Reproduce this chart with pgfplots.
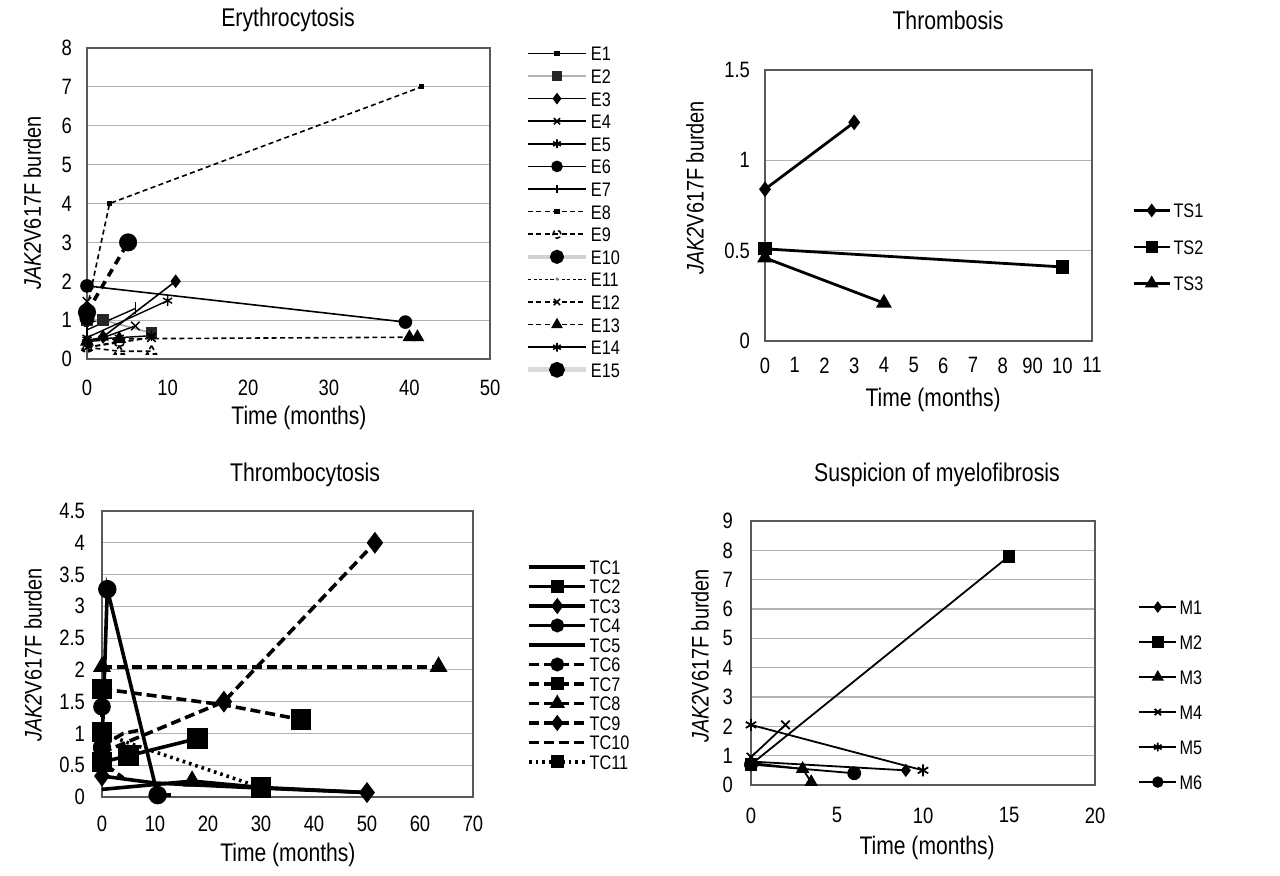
\documentclass[border=0pt]{standalone}
\usepackage{fontspec}
\setmainfont{Liberation Sans}[FakeStretch=0.83]
\usepackage{pgfplots}
\pgfplotsset{compat=1.18}
\pgfplotsset{
  base/.style={
    scale only axis, clip=false, anchor=south west,
    axis line style={draw=gray!70!black, line width=0.6pt},
    major tick length=0pt,
    ymajorgrids, major grid style={gray!60, line width=0.6pt},
    tick label style={font=\fontsize{11.1}{13}\selectfont},
    /pgf/number format/assume math mode=true,
    xlabel style={font=\fontsize{12.7}{15}\selectfont},
    ylabel style={font=\fontsize{12}{14}\selectfont},
    legend cell align=left,
    legend style={draw=none, fill=none, inner sep=0pt, anchor=north west,
      font=\fontsize{9.8}{11}\selectfont,
      nodes={inner sep=0pt, text height=7.5pt, text depth=0pt}},
    every axis plot/.append style={mark options={solid}},
  },
  limg/.style={legend image code/.code={%
    \draw[mark repeat=2,mark phase=2,##1] plot coordinates {(0pt,0pt) (#1/2,0pt) (#1,0pt)};
    \path (#1+1.2pt,0pt);}},
  dsh/.style={dash pattern=on 2.5pt off 1.7pt},
  dshT/.style={dash pattern=on 5pt off 2.5pt},
  dotT/.style={dash pattern=on 1.3pt off 2pt},
}
\begin{document}
\begin{tikzpicture}

% ---------------- Erythrocytosis ----------------
\begin{axis}[base, at={(43.5pt,258pt)}, width=201.5pt, height=155.5pt,
  xmin=0, xmax=50, ymin=0, ymax=8, xtick={0,10,...,50}, ytick={0,1,...,8},
  xticklabel style={yshift=-7pt}, yticklabel style={xshift=-4pt},
  xlabel={Time (months)}, ylabel={\textit{JAK2}V617F burden},
  xlabel style={at={(axis description cs:0.526,-0.19)}, anchor=center},
  ylabel style={at={(axis description cs:-0.136,0.5016)}, anchor=center},
  limg=29pt,
  legend style={at={(axis description cs:1.0868,1.008)}, row sep=3.8pt},
  ]
\addlegendimage{black, line width=0.8pt, mark=square*, mark size=0.9pt}
\addlegendimage{gray!60, line width=1pt, mark=square*, mark size=2pt, mark options={fill=gray!30!black, draw=gray!30!black}}
\addlegendimage{black, line width=0.8pt, mark=diamond*, mark size=2.3pt}
\addlegendimage{black, line width=0.8pt, mark=x, mark size=2.2pt}
\addlegendimage{black, line width=0.8pt, mark=asterisk, mark size=2.2pt}
\addlegendimage{black, line width=0.8pt, mark=*, mark size=2.5pt}
\addlegendimage{black, line width=0.8pt, mark=|, mark size=2pt}
\addlegendimage{black, line width=0.8pt, dsh, mark=square*, mark size=1pt}
\addlegendimage{black, line width=0.8pt, dsh, mark=o, mark size=2pt, mark options={fill=white}}
\addlegendimage{gray!35, line width=2pt, mark=*, mark size=2.5pt, mark options={fill=black, draw=black}}
\addlegendimage{black, line width=0.7pt, dash pattern=on 1.6pt off 1.2pt, mark=*, mark size=0.6pt, mark options={fill=gray, draw=gray}}
\addlegendimage{black, line width=0.8pt, dsh, mark=x, mark size=2.2pt}
\addlegendimage{black, line width=0.8pt, dsh, mark=triangle*, mark size=2.6pt}
\addlegendimage{black, line width=0.8pt, mark=asterisk, mark size=2.2pt}
\addlegendimage{gray!30, line width=2.6pt, mark=*, mark size=2.6pt, mark options={fill=black, draw=black}}
\legend{E1,E2,E3,E4,E5,E6,E7,E8,E9,E10,E11,E12,E13,E14,E15}
\addplot[forget plot, black, line width=0.7pt, mark=square*, mark size=0.9pt] coordinates {(0,0.9) (2,1.05)};
\addplot[forget plot, gray!70, line width=0.8pt, mark=square*, mark size=2.5pt, mark options={fill=gray!30!black, draw=gray!30!black}] coordinates {(0,1.0) (2,1.0) (8,0.67)};
\addplot[forget plot, black, line width=0.8pt, mark=diamond*, mark size=2.8pt] coordinates {(0,0.45) (2,0.57) (11,2.0)};
\addplot[forget plot, black, line width=0.7pt, mark=x, mark size=3pt] coordinates {(0,1.48) (0,0.4) (6,0.85)};
\addplot[forget plot, black, line width=0.7pt, mark=asterisk, mark size=2.6pt] coordinates {(0,0.5) (4,0.55) (8,0.6)};
\addplot[forget plot, black, line width=0.8pt, mark=*, mark size=3pt] coordinates {(0,1.88) (39.5,0.95)};
\addplot[forget plot, black, line width=0.7pt, mark=|, mark size=3pt] coordinates {(0,0.75) (6,1.3)};
\addplot[forget plot, black, line width=0.8pt, dsh, mark=square*, mark size=0.9pt] coordinates {(0,1.3) (2.8,4.0) (41.5,7.0)};
\addplot[forget plot, black, line width=0.8pt, dsh, mark=o, mark size=2.6pt, mark options={fill=white}] coordinates {(0,0.3) (4,0.45)};
\addplot[forget plot, gray!50, line width=1.5pt, mark=*, mark size=3pt, mark options={fill=black, draw=black}] coordinates {(0,1.05)};
\addplot[forget plot, black, line width=0.8pt, dsh, mark=triangle, mark size=2.8pt, mark options={fill=white}] coordinates {(0,0.3) (4,0.2) (8,0.2)};
\addplot[forget plot, black, line width=0.8pt, dsh, mark=x, mark size=3pt] coordinates {(0,0.3) (8,0.55)};
\addplot[forget plot, black, line width=0.8pt, dsh, mark=triangle*, mark size=3.2pt] coordinates {(0,0.45) (4,0.52) (40,0.56) (41,0.56)};
\addplot[forget plot, black, line width=0.7pt, mark=asterisk, mark size=2.6pt] coordinates {(0,0.55) (10,1.5)};
\addplot[forget plot, black, line width=1.8pt, dash pattern=on 4pt off 3pt, mark=*, mark size=3.6pt] coordinates {(0,1.2) (5.1,3.0)};
\end{axis}

% ---------------- Thrombosis ----------------
\begin{axis}[base, at={(382.5pt,267pt)}, width=163.5pt, height=135.5pt,
  xmin=0, xmax=11, ymin=0, ymax=1.5, xtick={0,1,...,11},
  xticklabels={0,1,2,3,4,5,6,7,8,90,10,11}, ytick={0,0.5,1,1.5},
  xticklabel style={yshift=-4.75pt}, yticklabel style={xshift=-4pt},
  xlabel={Time (months)}, ylabel={\textit{JAK2}V617F burden},
  xlabel style={at={(axis description cs:0.514,-0.218)}, anchor=center},
  ylabel style={at={(axis description cs:-0.214,0.565)}, anchor=center},
  limg=18pt,
  legend style={at={(axis description cs:1.122,0.511)}, row sep=10.75pt},
  ]
\addlegendimage{black, line width=1.4pt, mark=diamond*, mark size=2.3pt}
\addlegendimage{black, line width=1.4pt, mark=square*, mark size=2.2pt}
\addlegendimage{black, line width=1.4pt, mark=triangle*, mark size=2.6pt}
\legend{TS1,TS2,TS3}
\addplot[forget plot, black, line width=1.4pt, mark=diamond*, mark size=2.8pt] coordinates {(0,0.84) (3,1.21)};
\addplot[forget plot, black, line width=1.4pt, mark=square*, mark size=2.6pt] coordinates {(0,0.51) (10,0.41)};
\addplot[forget plot, black, line width=1.4pt, mark=triangle*, mark size=3.2pt] coordinates {(0,0.46) (4,0.21)};
\end{axis}

% ---------------- Thrombocytosis ----------------
\begin{axis}[base, at={(51pt,39pt)}, width=185.5pt, height=143pt,
  xmin=0, xmax=70, ymin=0, ymax=4.5, xtick={0,10,...,70}, ytick={0,0.5,...,4.5},
  xticklabel style={yshift=-5.75pt}, yticklabel style={xshift=-5pt},
  xlabel={Time (months)}, ylabel={\textit{JAK2}V617F burden},
  xlabel style={at={(axis description cs:0.501,-0.203)}, anchor=center},
  ylabel style={at={(axis description cs:-0.186,0.497)}, anchor=center},
  limg=28pt,
  legend style={at={(axis description cs:1.1455,0.832)}, row sep=2.25pt},
  ]
\addlegendimage{black, line width=1.9pt}
\addlegendimage{black, line width=1.9pt, mark=square*, mark size=2.3pt}
\addlegendimage{black, line width=1.9pt, mark=diamond*, mark size=2.5pt}
\addlegendimage{black, line width=1.9pt, mark=*, mark size=2.5pt}
\addlegendimage{black, line width=1.9pt}
\addlegendimage{black, line width=1.9pt, dshT, mark=*, mark size=2.5pt}
\addlegendimage{black, line width=1.9pt, dshT, mark=square*, mark size=2.3pt}
\addlegendimage{black, line width=1.9pt, dshT, mark=triangle*, mark size=2.6pt}
\addlegendimage{black, line width=1.9pt, dshT, mark=diamond*, mark size=2.5pt}
\addlegendimage{black, line width=1.9pt, dshT}
\addlegendimage{black, line width=1.9pt, dotT, mark=square*, mark size=2.3pt}
\legend{TC1,TC2,TC3,TC4,TC5,TC6,TC7,TC8,TC9,TC10,TC11}
\addplot[forget plot, black, line width=1.8pt, mark=triangle*, mark size=3.6pt, mark indices={2}] coordinates {(0,0.12) (17,0.25) (30,0.15) (50,0.07)};
\addplot[forget plot, black, line width=1.8pt, mark=square*, mark size=4.2pt] coordinates {(0,0.55) (5,0.65) (18,0.92)};
\addplot[forget plot, black, line width=1.8pt, mark=diamond*, mark size=3.8pt, mark indices={1,4}] coordinates {(0,0.33) (10,0.22) (30,0.14) (50,0.07)};
\addplot[forget plot, black, line width=1.8pt, mark=*, mark size=3.7pt] coordinates {(0,0.78) (1,3.27) (10.5,0.03)};
\addplot[forget plot, black, line width=1.8pt] coordinates {(10.5,0.03) (13,0.03)};
\addplot[forget plot, black, line width=1.8pt, dshT, mark=*, mark size=3.5pt, mark indices={1,2}] coordinates {(0,1.42) (0,0.55) (4,0.3)};
\addplot[forget plot, black, line width=1.8pt, dshT, mark=square*, mark size=4.2pt, mark indices={1,3}] coordinates {(0,1.7) (23,1.45) (37.5,1.22)};
\addplot[forget plot, black, line width=1.8pt, dshT, mark=triangle*, mark size=3.4pt] coordinates {(0,2.05) (63.5,2.05)};
\addplot[forget plot, black, line width=1.8pt, dshT, mark=diamond*, mark size=4pt] coordinates {(0,0.7) (23,1.5) (51.5,4.0)};
\addplot[forget plot, black, line width=1.8pt, dshT] coordinates {(0,0.8) (4,1.0) (7,1.05)};
\addplot[forget plot, black, line width=1.8pt, dotT, mark=square*, mark size=4.2pt, mark indices={1,3}] coordinates {(0,1.02) (5,0.85) (30,0.15)};
\end{axis}

% ---------------- Suspicion of myelofibrosis ----------------
\begin{axis}[base, at={(375.5pt,45pt)}, width=172pt, height=132pt,
  xmin=0, xmax=20, ymin=0, ymax=9, xtick={0,5,...,20}, ytick={0,1,...,9},
  xticklabel style={yshift=-7.75pt}, yticklabel style={xshift=-5.5pt},
  xlabel={Time (months)}, ylabel={\textit{JAK2}V617F burden},
  xlabel style={at={(axis description cs:0.512,-0.239)}, anchor=center},
  ylabel style={at={(axis description cs:-0.148,0.489)}, anchor=center},
  limg=18.5pt,
  legend style={at={(axis description cs:1.125,0.704)}, row sep=10pt},
  ]
\addlegendimage{black, line width=0.9pt, mark=diamond*, mark size=2.2pt}
\addlegendimage{black, line width=0.9pt, mark=square*, mark size=2.4pt}
\addlegendimage{black, line width=0.9pt, mark=triangle*, mark size=2.6pt}
\addlegendimage{black, line width=0.9pt, mark=x, mark size=2.2pt}
\addlegendimage{black, line width=0.9pt, mark=asterisk, mark size=2.2pt}
\addlegendimage{black, line width=0.9pt, mark=*, mark size=2.4pt}
\legend{M1,M2,M3,M4,M5,M6}
\addplot[forget plot, black, line width=0.9pt, mark=diamond*, mark size=2.6pt] coordinates {(0,0.8) (9,0.5)};
\addplot[forget plot, black, line width=0.9pt, mark=square*, mark size=2.7pt] coordinates {(0,0.7) (15,7.8)};
\addplot[forget plot, black, line width=0.9pt, mark=triangle*, mark size=3pt] coordinates {(0,0.75) (3,0.55) (3.5,0.1)};
\addplot[forget plot, black, line width=0.9pt, mark=x, mark size=3pt] coordinates {(0,0.95) (2,2.05)};
\addplot[forget plot, black, line width=0.9pt, mark=asterisk, mark size=3pt] coordinates {(0,2.05) (10,0.5)};
\addplot[forget plot, black, line width=0.9pt, mark=*, mark size=3pt] coordinates {(0,0.7) (6,0.4)};
\end{axis}

% ---------------- titles ----------------
\node[font=\fontsize{12.8}{15}\selectfont] at (144pt,427.5pt) {Erythrocytosis};
\node[font=\fontsize{12.8}{15}\selectfont] at (474pt,427.5pt) {Thrombosis};
\node[font=\fontsize{12.8}{15}\selectfont] at (152.5pt,200pt) {Thrombocytosis};
\node[font=\fontsize{12.8}{15}\selectfont] at (468.5pt,200pt) {Suspicion of myelofibrosis};

\pgfresetboundingbox
\useasboundingbox (0pt,0pt) rectangle (640pt,437.5pt);
\end{tikzpicture}
\end{document}
